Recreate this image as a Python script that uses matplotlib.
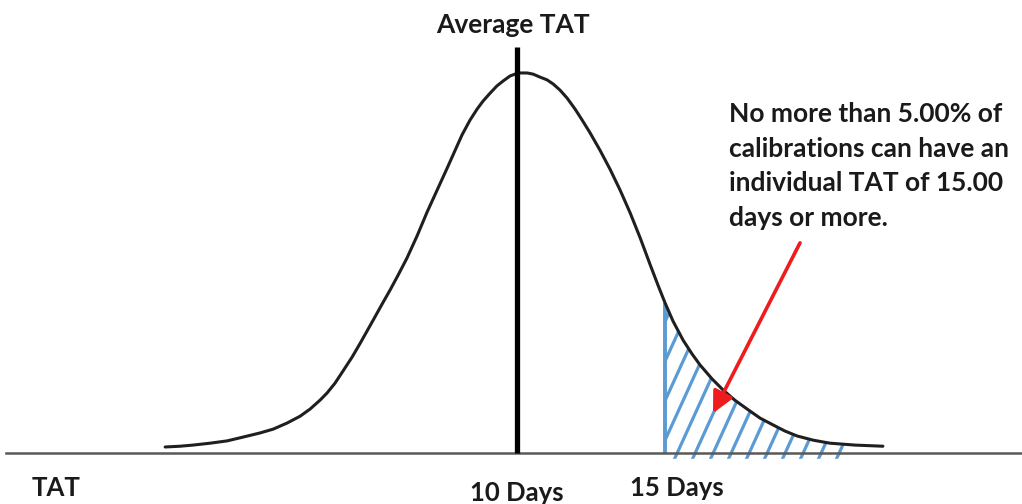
import matplotlib

matplotlib.use("Agg")
import matplotlib.pyplot as plt
import numpy as np
from matplotlib.patches import Polygon

# TAT distribution: days vs relative frequency (peak = 1)
tat_days = [-1.89, -1.39, -0.95, -0.37, 0.20, 0.74, 1.32, 1.76, 2.23, 2.67, 3.01,
            3.34, 3.58, 3.85, 4.12, 4.43, 4.70, 5.14, 5.44, 5.71, 5.98, 6.28,
            6.62, 6.96, 7.30, 7.64, 7.91, 8.14, 8.41, 8.65, 8.85, 9.09, 9.32,
            9.53, 9.76, 9.93, 10.10,
            10.34, 10.54, 10.78, 11.01, 11.22, 11.45, 11.69, 11.96, 12.20, 12.47,
            12.80, 13.14, 13.48, 13.82, 14.16, 14.49, 14.76, 15.00, 15.27, 15.61,
            15.91, 16.18, 16.59, 16.96, 17.36, 17.77, 18.21, 18.65, 19.05, 19.46,
            20.00, 20.57, 21.42, 22.36]
rel_freq = [0.016, 0.018, 0.021, 0.026, 0.032, 0.042, 0.053, 0.063, 0.079, 0.097, 0.116,
            0.139, 0.158, 0.184, 0.216, 0.253, 0.289, 0.350, 0.392, 0.429, 0.468, 0.513,
            0.571, 0.634, 0.692, 0.750, 0.797, 0.837, 0.876, 0.905, 0.926, 0.947, 0.966,
            0.979, 0.992, 0.997, 1.000,
            1.000, 0.997, 0.989, 0.982, 0.971, 0.955, 0.934, 0.905, 0.876, 0.842,
            0.797, 0.747, 0.692, 0.632, 0.566, 0.497, 0.442, 0.395, 0.347, 0.297,
            0.261, 0.232, 0.195, 0.166, 0.139, 0.116, 0.092, 0.074, 0.058, 0.045,
            0.034, 0.026, 0.021, 0.018]

average_tat = 10
limit_tat = 15
tick_days = [10, 15]
tick_labels = ["10 Days", "15 Days"]
note_lines = ["No more than 5.00% of",
              "calibrations can have an",
              "individual TAT of 15.00",
              "days or more."]

BLUE = "#5b9bd5"
RED = "#ee1c1c"
TEXT = "#1a1a1a"
FONT = ["Lato", "DejaVu Sans"]

x = np.array(tat_days)
y = np.array(rel_freq)

fig = plt.figure(figsize=(10.22, 5.04), dpi=100)
ax = fig.add_axes([0, 0, 1, 1])
ax.set_xlim(-7.47, 27.06)
ax.set_ylim(-0.134, 1.192)
ax.axis("off")

# baseline
ax.axhline(0, xmin=0.006, xmax=1, color="#595959", linewidth=1.8, zorder=2)

# hatched tail beyond the limit
tail = (x >= limit_tat) & (x <= 21.5)
tx, ty = x[tail], y[tail]
verts = list(zip(tx, ty)) + [(tx[-1], -0.015), (tx[0], -0.015)]
clip = Polygon(verts, closed=True, facecolor="none", edgecolor="none")
ax.add_patch(clip)
slope = 0.171
spacing = 0.608
for x0 in np.arange(limit_tat + 0.41 - 10 * spacing, 21.0, spacing):
    ys = np.array([-0.05, 0.6])
    line, = ax.plot(x0 + ys / slope, ys, color=BLUE, linewidth=2.3,
                    solid_capstyle="butt", zorder=1)
    line.set_clip_path(clip)
ax.vlines(limit_tat, 0, ty[0], color=BLUE, linewidth=2.8, zorder=1)

# distribution curve
ax.plot(x, y, color="#1f1f1f", linewidth=2.2, zorder=3,
        solid_joinstyle="round", solid_capstyle="round")

# average line
ax.vlines(average_tat, 0, 1.068, color="black", linewidth=3.8, zorder=4)
ax.text(average_tat - 0.15, 1.126, "Average TAT", ha="center", va="center",
        fontsize=19, fontweight="bold", family=FONT, color=TEXT)

# bottom labels
ax.text(-5.57, -0.092, "TAT", ha="center", va="center", fontsize=18.5,
        fontweight="bold", family=FONT, color=TEXT)
for day, label, dx, yy in zip(tick_days, tick_labels, [0, 0.4], [-0.105, -0.092]):
    ax.text(day + dx, yy, label, ha="center", va="center", fontsize=18.5,
            fontweight="bold", family=FONT, color=TEXT)

# note + arrow
for i, txt in enumerate(note_lines):
    ax.text(17.16, 0.871 - i * 0.0913, txt, ha="left", va="baseline",
            fontsize=19, fontweight="bold", family=FONT, color=TEXT)
ax.annotate("", xy=(16.62, 0.105), xytext=(19.56, 0.553),
            arrowprops=dict(arrowstyle="-|>", color=RED, lw=2.6,
                            mutation_scale=32, shrinkA=0, shrinkB=0),
            zorder=5)

fig.savefig("out.png", dpi=100)
